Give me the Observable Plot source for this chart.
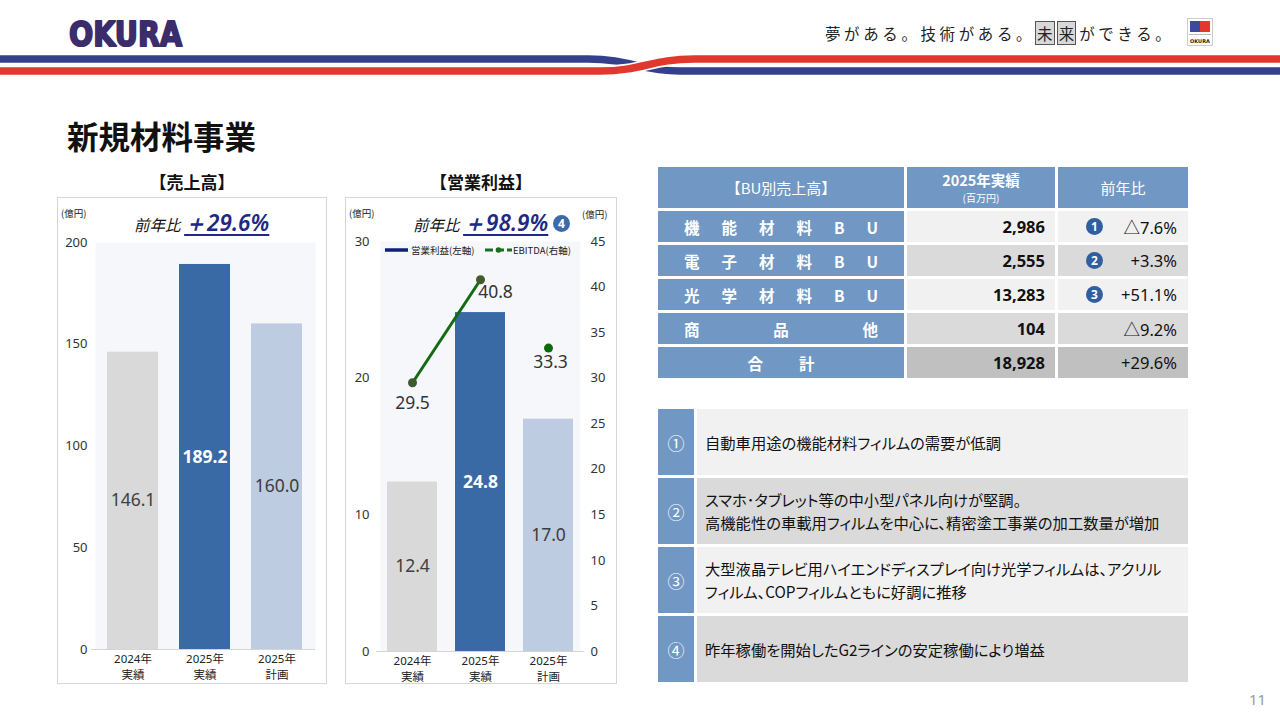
<!DOCTYPE html>
<html><head><meta charset="utf-8">
<script src="https://cdn.jsdelivr.net/npm/d3@7"></script>
<script src="https://cdn.jsdelivr.net/npm/@observablehq/plot@0.6"></script>
<style>
html,body{margin:0;padding:0;background:#fff;}
#page{position:relative;width:1280px;height:720px;overflow:hidden;font-family:"Noto Sans CJK JP","Noto Sans",sans-serif;color:#111;}
.abs{position:absolute;}
.frame{position:absolute;border:1px solid #d6d6d6;box-sizing:border-box;}
.grid{position:absolute;display:grid;gap:3px;}
.cell{display:flex;align-items:center;box-sizing:border-box;}
.blue{background:#7197c5;color:#fff;}
.circ{display:inline-flex;align-items:center;justify-content:center;width:17px;height:17px;border-radius:50%;background:#2f5f9f;color:#fff;font-size:12px;font-weight:700;font-family:"Noto Sans",sans-serif;}
</style></head>
<body><div id="page">
<svg class="abs" style="left:0;top:0" width="1280" height="90">
  <path d="M0,59 H588 C630,59 640,71 680,71 H1280" stroke="#35408c" stroke-width="7.5" fill="none"/>
  <path d="M0,71 H600 C642,71 652,59 694,59 H1280" stroke="#fff" stroke-width="11" fill="none"/>
  <path d="M0,71 H600 C642,71 652,59 694,59 H1280" stroke="#e2372d" stroke-width="7.5" fill="none"/>
  <text x="69" y="46" font-family="'DejaVu Sans', sans-serif" font-weight="bold" font-size="33" fill="#3b2d6c" stroke="#3b2d6c" stroke-width="2" stroke-linejoin="round" textLength="113" lengthAdjust="spacingAndGlyphs">OKURA</text>
  <rect x="1187.5" y="18.5" width="25" height="27" fill="#fff" stroke="#ccc"/>
  <rect x="1190" y="21" width="10" height="11" fill="#3a4a9c"/>
  <rect x="1200" y="21" width="10" height="11" fill="#e2372d"/>
  <line x1="1189" y1="34.5" x2="1211" y2="34.5" stroke="#bbb"/>
  <text x="1200" y="43" text-anchor="middle" font-family="DejaVu Sans" font-weight="bold" font-size="5" fill="#222">OKURA</text>
</svg>
<div class="abs" style="left:825px;top:22px;font-size:15.5px;letter-spacing:3.6px;white-space:nowrap;color:#222;">夢がある。技術がある。<span style="background:#d8d8d8;border:1px solid #555;padding:0 1px;letter-spacing:0">未</span><span style="background:#d8d8d8;border:1px solid #555;padding:0 1px;margin-left:2px;margin-right:3px;letter-spacing:0">来</span>ができる。</div>

<div class="abs" style="left:67px;top:112px;font-size:31.5px;font-weight:700;color:#111;">新規材料事業</div>

<div class="abs" style="left:57px;top:169px;width:270px;text-align:center;font-size:17px;font-weight:700;">【売上高】</div>
<div class="abs" style="left:345px;top:169px;width:272px;text-align:center;font-size:17px;font-weight:700;">【営業利益】</div>

<div class="frame" id="c1" style="left:57px;top:197px;width:270px;height:487px;"></div>
<div class="frame" id="c2" style="left:345px;top:197px;width:272px;height:487px;"></div>

<div class="abs" style="left:61px;top:206px;font-size:9.5px;color:#222;">(億円)</div>
<div class="abs" style="left:349px;top:206px;font-size:9.5px;color:#222;">(億円)</div>
<div class="abs" style="left:582px;top:207px;font-size:9.5px;color:#222;">(億円)</div>

<div class="abs" style="left:134px;top:207px;white-space:nowrap;">
  <span style="font-size:15.5px;font-style:italic;">前年比</span>
  <span style="font-size:22.5px;font-style:italic;font-weight:600;color:#1c2a85;text-decoration:underline;text-decoration-thickness:1.5px;text-underline-offset:3px;font-family:'Noto Sans',sans-serif;">＋29.6%</span>
</div>
<div class="abs" style="left:413px;top:207px;white-space:nowrap;">
  <span style="font-size:15.5px;font-style:italic;">前年比</span>
  <span style="font-size:22.5px;font-style:italic;font-weight:600;color:#1c2a85;text-decoration:underline;text-decoration-thickness:1.5px;text-underline-offset:3px;font-family:'Noto Sans',sans-serif;">＋98.9%</span>
  <span class="circ" style="background:#3b6bab;vertical-align:3px;margin-left:1px;">4</span>
</div>

<svg class="abs" style="left:380px;top:242px" width="205" height="16">
  <line x1="5" y1="8" x2="28" y2="8" stroke="#0f1f80" stroke-width="3.5"/>
  <text x="31" y="11.5" font-size="9.5" font-family="Noto Sans CJK JP" fill="#222">営業利益(左軸)</text>
  <line x1="105" y1="8" x2="132" y2="8" stroke="#1b6e1b" stroke-width="3" stroke-dasharray="8,3"/>
  <circle cx="118.5" cy="8" r="2.8" fill="#1b6e1b"/>
  <text x="133" y="11.5" font-size="9.5" font-family="Noto Sans CJK JP" fill="#222">EBITDA(右軸)</text>
</svg>

<div class="grid" id="tbl" style="left:658px;top:167px;grid-template-columns:246px 148px 130px;grid-template-rows:41px repeat(5,31px);"></div>
<div class="grid" id="notes" style="left:658px;top:409px;grid-template-columns:36px 491px;grid-template-rows:repeat(4,66px);"></div>

<div class="abs" style="left:1249px;top:689px;font-size:15px;color:#9a9a9a;font-family:'Noto Sans',sans-serif;">11</div>
</div>
<script>
// ---- data ----
const categories = ["2024年\n実績", "2025年\n実績", "2025年\n計画"];
const salesValues = [146.1, 189.2, 160.0];
const profitValues = [12.4, 24.8, 17.0];
const ebitdaValues = [29.5, 40.8, 33.3];
const salesTicks = [0, 50, 100, 150, 200];
const profitTicks = [0, 10, 20, 30];
const ebitdaTicks = [0, 5, 10, 15, 20, 25, 30, 35, 40, 45];
const barColors = ["#d9d9d9", "#3a6aa6", "#bdcce0"];
const labelColors = ["#404040", "#ffffff", "#3d3d3d"];

const buNames = ["機能材料BU", "電子材料BU", "光学材料BU", "商品他"];
const buSales = ["2,986", "2,555", "13,283", "104"];
const buYoY = ["△7.6%", "+3.3%", "+51.1%", "△9.2%"];
const buNotes = ["1", "2", "3", ""];
const totalSales = "18,928";
const totalYoY = "+29.6%";
const noteMarks = ["①", "②", "③", "④"];
const noteTexts = [
  "自動車用途の機能材料フィルムの需要が低調",
  "スマホ･タブレット等の中小型パネル向けが堅調。\n高機能性の車載用フィルムを中心に、精密塗工事業の加工数量が増加",
  "大型液晶テレビ用ハイエンドディスプレイ向け光学フィルムは、アクリル\nフィルム、COPフィルムともに好調に推移",
  "昨年稼働を開始したG2ラインの安定稼働により増益"
];

const font = "'Noto Sans','Noto Sans CJK JP',sans-serif";

// ---- chart 1: sales ----
const sales = categories.map((c, i) => ({cat: c, v: salesValues[i], fill: barColors[i], lc: labelColors[i], i}));
const chart1 = Plot.plot({
  width: 268, height: 485,
  marginTop: 44, marginBottom: 34, marginLeft: 37, marginRight: 11,
  style: {fontFamily: font, fontSize: "13px", color: "#333", background: "transparent", overflow: "visible"},
  x: {domain: categories, paddingInner: 0.285, paddingOuter: 0.165, label: null},
  y: {domain: [0, 200], label: null},
  color: {type: "identity"},
  marks: [
    Plot.frame({fill: "#f6f7fa", stroke: null}),
    Plot.barY(sales, {x: "cat", y: "v", fill: "fill"}),
    Plot.ruleY([0], {stroke: "#d4d4d4", insetLeft: -4}),
    Plot.text(sales.filter(d => d.i !== 1), {x: "cat", y: d => d.v / 2, text: d => d.v.toFixed(1), fill: "lc", fontSize: 17.5}),
    Plot.text(sales.filter(d => d.i === 1), {x: "cat", y: d => d.v / 2, text: d => d.v.toFixed(1), fill: "lc", fontSize: 17.5, fontWeight: "bold"}),
    Plot.axisY(salesTicks, {tickSize: 0, tickPadding: 8, label: null, fontSize: 13}),
    Plot.axisX({tickSize: 0, tickPadding: 2, label: null, fontSize: 11.5, lineHeight: 1.38, fill: "#222"})
  ]
});
document.getElementById("c1").appendChild(chart1);

// ---- chart 2: operating profit + EBITDA ----
const k = 30 / 45;
const prof = categories.map((c, i) => ({cat: c, v: profitValues[i], e: ebitdaValues[i], fill: barColors[i], lc: labelColors[i], i}));
const chart2 = Plot.plot({
  width: 270, height: 485,
  marginTop: 43, marginBottom: 32, marginLeft: 34, marginRight: 36,
  style: {fontFamily: font, fontSize: "13px", color: "#333", background: "transparent", overflow: "visible"},
  x: {domain: categories, paddingInner: 0.27, paddingOuter: 0.1, label: null},
  y: {domain: [0, 30], label: null},
  color: {type: "identity"},
  marks: [
    Plot.frame({fill: "#f6f7fa", stroke: null}),
    Plot.barY(prof, {x: "cat", y: "v", fill: "fill"}),
    Plot.ruleY([0], {stroke: "#d4d4d4", insetLeft: -4, insetRight: -4}),
    Plot.text(prof.filter(d => d.i !== 1), {x: "cat", y: d => d.v / 2, text: d => d.v.toFixed(1), fill: "lc", fontSize: 17.5}),
    Plot.text(prof.filter(d => d.i === 1), {x: "cat", y: d => d.v / 2, text: d => d.v.toFixed(1), fill: "lc", fontSize: 17.5, fontWeight: "bold"}),
    Plot.line(prof.slice(0, 2), {x: "cat", y: d => d.e * k, stroke: "#136b13", strokeWidth: 3}),
    Plot.dot(prof.slice(0, 2), {x: "cat", y: d => d.e * k, r: 4.5, fill: "#3f5a2c", stroke: null}),
    Plot.dot(prof.slice(2), {x: "cat", y: d => d.e * k, r: 4.5, fill: "#0b6a0b", stroke: null}),
    Plot.text(prof.slice(0, 1), {x: "cat", y: d => d.e * k, text: d => d.e.toFixed(1), dy: 21, fontSize: 17.5, fill: "#333"}),
    Plot.text(prof.slice(1, 2), {x: "cat", y: d => d.e * k, text: d => d.e.toFixed(1), dx: 15, dy: 13, fontSize: 17.5, fill: "#333"}),
    Plot.text(prof.slice(2), {x: "cat", y: d => d.e * k, text: d => d.e.toFixed(1), dx: 2, dy: 14, fontSize: 17.5, fill: "#333"}),
    Plot.axisY(profitTicks, {tickSize: 0, tickPadding: 11, label: null, fontSize: 13}),
    Plot.axisY(ebitdaTicks.map(v => v * k), {anchor: "right", tickFormat: d => Math.round(d / k), tickSize: 0, tickPadding: 10, label: null, fontSize: 13}),
    Plot.axisX({tickSize: 0, tickPadding: 2, label: null, fontSize: 11.5, lineHeight: 1.38, fill: "#222"})
  ]
});
document.getElementById("c2").appendChild(chart2);

// ---- table ----
const tbl = document.getElementById("tbl");
function cell(parent, html, cls, style) {
  const d = document.createElement("div");
  d.className = "cell " + (cls || "");
  d.setAttribute("style", style || "");
  d.innerHTML = html;
  parent.appendChild(d);
  return d;
}
cell(tbl, "【BU別売上高】", "blue", "justify-content:center;font-size:15px;");
cell(tbl, "<div style='text-align:center;line-height:1'><div style='font-size:14.5px;font-weight:700;line-height:21px'>2025年実績</div><div style='font-size:10px;line-height:15px'>(百万円)</div></div>", "blue", "justify-content:center;padding-bottom:2px;");
cell(tbl, "前年比", "blue", "justify-content:center;font-size:15px;");
const rowBg = ["#f1f1f1", "#dadada", "#f1f1f1", "#dadada"];
buNames.forEach((n, i) => {
  const chars = n.split("");
  cell(tbl, chars.map(c => `<span>${c}</span>`).join(""), "blue", "justify-content:space-between;padding:0 26px 0 26px;font-size:15.5px;font-weight:700;");
  cell(tbl, buSales[i], "", `justify-content:flex-end;padding-right:10px;background:${rowBg[i]};font-size:16.5px;font-weight:700;font-family:${font};`);
  cell(tbl, (buNotes[i] ? `<span class="circ" style="position:absolute;left:28px">${buNotes[i]}</span>` : "") + `<span>${buYoY[i]}</span>`, "", `position:relative;justify-content:flex-end;padding-right:11px;background:${rowBg[i]};font-size:16.5px;font-family:${font};`);
});
cell(tbl, "<span>合</span><span style='margin-left:36px'>計</span>", "blue", "justify-content:center;font-size:15.5px;font-weight:700;");
cell(tbl, totalSales, "", `justify-content:flex-end;padding-right:10px;background:#c0c0c0;font-size:16.5px;font-weight:700;font-family:${font};`);
cell(tbl, totalYoY, "", `justify-content:flex-end;padding-right:11px;background:#c0c0c0;font-size:16.5px;font-family:${font};`);

// ---- notes ----
const notes = document.getElementById("notes");
const noteBg = ["#f1f1f1", "#dadada", "#f1f1f1", "#dadada"];
noteMarks.forEach((m, i) => {
  cell(notes, m, "blue", "justify-content:center;font-size:17px;");
  cell(notes, noteTexts[i].replace(/\n/g, "<br>"), "", `padding-left:8px;background:${noteBg[i]};font-size:15.3px;line-height:23px;color:#111;font-feature-settings:'palt';white-space:nowrap;`);
});
</script>
</body></html>
